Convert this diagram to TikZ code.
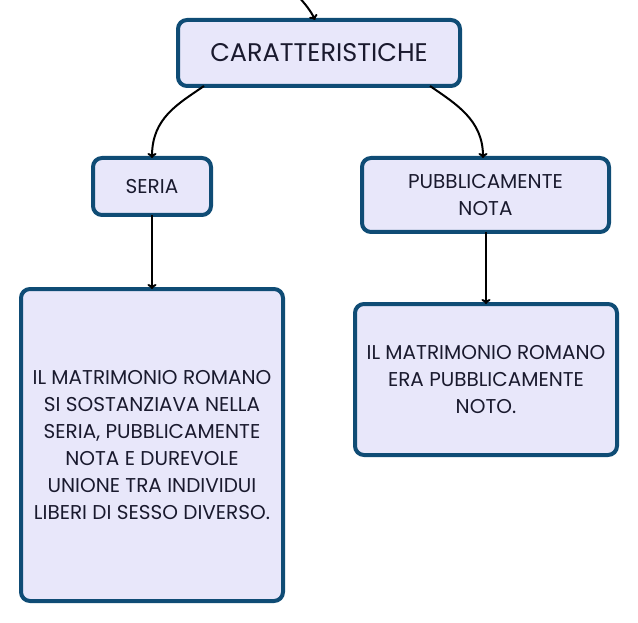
\documentclass[tikz,border=0pt]{standalone}
\usepackage{fontspec}
\setmainfont{Poppins}
\usetikzlibrary{arrows.meta}
\definecolor{bordc}{HTML}{0F4C75}
\definecolor{fillc}{HTML}{E8E7FA}
\definecolor{txtc}{HTML}{1A1A2E}
\tikzset{
  box/.style={draw=bordc, fill=fillc, line width=4pt, rounded corners=9pt,
    inner sep=0pt, outer sep=0pt, align=center, text=txtc},
  bigtxt/.style={font=\fontsize{25.5}{30}\selectfont},
  smalltxt/.style={font=\fontsize{20}{27}\selectfont},
  conn/.style={line width=2pt, -{To[length=5pt,width=9pt]}},
}
\begin{document}
\begin{tikzpicture}[x=1pt,y=-1pt]
\useasboundingbox (0,0) rectangle (638,623);
\node[box, bigtxt, minimum width=282pt, minimum height=66pt] (car) at (319,53) {CARATTERISTICHE};
\node[box, smalltxt, minimum width=118pt, minimum height=57pt] (ser) at (152,186.5) {SERIA};
\node[box, smalltxt, minimum width=247pt, minimum height=74pt] (pub) at (485.5,195) {PUBBLICAMENTE\\NOTA};
\node[box, smalltxt, minimum width=262pt, minimum height=312pt] (lt) at (152,445) {IL MATRIMONIO ROMANO\\SI SOSTANZIAVA NELLA\\SERIA, PUBBLICAMENTE\\NOTA E DUREVOLE\\UNIONE TRA INDIVIDUI\\LIBERI DI SESSO DIVERSO.};
\node[box, smalltxt, minimum width=262pt, minimum height=151pt] (rt) at (486,379.5) {IL MATRIMONIO ROMANO\\ERA PUBBLICAMENTE\\NOTO.};
\coordinate (top) at (299,-3);
\draw[conn] (top) to[out=-50,in=115] (car.north -| 315,0);
\draw[conn] (car.south -| 204,0) .. controls (178,104) and (152,118) .. (ser.north);
\draw[conn] (car.south -| 430,0) .. controls (456,104) and (483,120) .. (pub.north -| 483,0);
\draw[conn] (ser.south) -- (lt.north);
\draw[conn] (pub.south -| 486,0) -- (rt.north);
\end{tikzpicture}
\end{document}
